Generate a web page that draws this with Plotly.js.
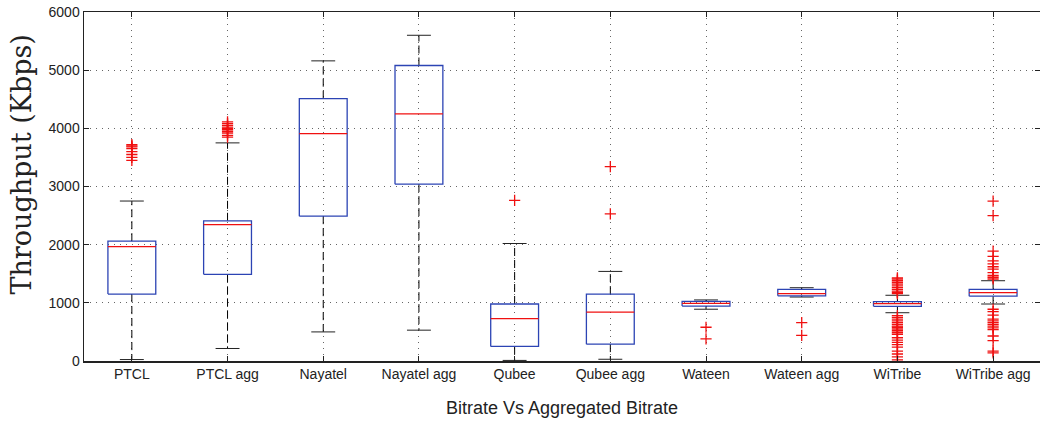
<!DOCTYPE html>
<html>
<head>
<meta charset="utf-8">
<script src="https://cdn.plot.ly/plotly-3.0.1.min.js"></script>
<style>html,body{margin:0;padding:0;background:#fff;}#chart{width:1040px;height:422px;}</style>
</head>
<body>
<div id="chart"></div>
<script>
const categories = ["PTCL", "PTCL agg", "Nayatel", "Nayatel agg", "Qubee", "Qubee agg", "Wateen", "Wateen agg", "WiTribe", "WiTribe agg"];
const q1Values     = [1150, 1490, 2490, 3040, 250, 290, 945, 1120, 940, 1115];
const medianValues = [1965, 2345, 3910, 4250, 730, 840, 990, 1160, 985, 1175];
const q3Values     = [2060, 2410, 4510, 5080, 980, 1150, 1025, 1230, 1020, 1230];
const lowerWhisker = [25, 215, 500, 530, 10, 30, 890, 1100, 830, 980];
const upperWhisker = [2750, 3750, 5160, 5600, 2020, 1540, 1050, 1260, 1130, 1380];
const outlierValues = [
  [3450, 3500, 3550, 3600, 3650, 3680, 3700, 3720],
  [3850, 3880, 3920, 3950, 3980, 4000, 4020, 4050, 4080, 4110],
  [],
  [],
  [2760],
  [2530, 3340],
  [380, 580],
  [440, 660],
  [1160, 1180, 1200, 1230, 1260, 1290, 1320, 1350, 1380, 1410, 1430,
   780, 750, 720, 690, 660, 630, 600, 580, 550, 520, 490, 460, 400, 360, 320, 280, 240, 170, 120, 70, 20],
  [1410, 1440, 1470, 1520, 1580, 1620, 1670, 1720, 1800, 1890, 2500, 2750,
   890, 850, 790, 720, 690, 660, 630, 600, 570, 540, 430, 350, 170, 140]
];
const yTicks = [0, 1000, 2000, 3000, 4000, 5000, 6000];
const yTitle = 'Throughput (Kbps)';
const xTitle = 'Bitrate Vs Aggregated Bitrate';

const boxHalf = 0.25, capHalf = 0.125;
const pos = categories.map((c, i) => i + 1);

const bx = [], by = [], mx = [], my = [], wx = [], wy = [], cx = [], cy = [], ox = [], oy = [];
pos.forEach((p, i) => {
  bx.push(p - boxHalf, p + boxHalf, p + boxHalf, p - boxHalf, p - boxHalf, null);
  by.push(q1Values[i], q1Values[i], q3Values[i], q3Values[i], q1Values[i], null);
  mx.push(p - boxHalf, p + boxHalf, null);
  my.push(medianValues[i], medianValues[i], null);
  wx.push(p, p, null, p, p, null);
  wy.push(q3Values[i], upperWhisker[i], null, q1Values[i], lowerWhisker[i], null);
  cx.push(p - capHalf, p + capHalf, null, p - capHalf, p + capHalf, null);
  cy.push(upperWhisker[i], upperWhisker[i], null, lowerWhisker[i], lowerWhisker[i], null);
  outlierValues[i].forEach(v => { ox.push(p); oy.push(v); });
});

const traces = [
  {x: wx, y: wy, mode: 'lines', line: {color: '#000', width: 1, dash: '8px,4px'}, hoverinfo: 'skip'},
  {x: cx, y: cy, mode: 'lines', line: {color: '#222', width: 1}, hoverinfo: 'skip'},
  {x: bx, y: by, mode: 'lines', line: {color: '#2c44b4', width: 1.3}, hoverinfo: 'skip'},
  {x: mx, y: my, mode: 'lines', line: {color: '#f01010', width: 1.3}, hoverinfo: 'skip'},
  {x: ox, y: oy, mode: 'markers', marker: {symbol: 'cross-thin', size: 8, line: {color: '#f01010', width: 1.3}}, hoverinfo: 'skip'}
];

const layout = {
  width: 1040, height: 422,
  margin: {l: 84, r: 0, t: 12, b: 61},
  showlegend: false,
  paper_bgcolor: '#fff', plot_bgcolor: '#fff',
  font: {family: 'Liberation Sans, Arial, sans-serif', color: '#222'},
  xaxis: {
    range: [0.5, 10.49], tickvals: pos, ticktext: categories,
    ticks: 'inside', ticklen: 5, tickcolor: '#222', tickwidth: 1,
    showline: true, linecolor: '#222', linewidth: 1.5, mirror: 'ticks',
    showgrid: true, gridcolor: '#666', griddash: '1px,5px', gridwidth: 1,
    zeroline: false, tickfont: {size: 14},
    title: {text: xTitle, font: {size: 18}, standoff: 20}
  },
  yaxis: {
    range: [0, 6000], tickvals: yTicks,
    ticks: 'inside', ticklen: 5, tickcolor: '#222', tickwidth: 1,
    showline: true, linecolor: '#222', linewidth: 1.5, mirror: 'ticks',
    showgrid: true, gridcolor: '#666', griddash: '1px,5px', gridwidth: 1,
    zeroline: false, tickfont: {size: 14}
  },
  annotations: [{
    text: yTitle, textangle: -90, showarrow: false,
    xref: 'paper', yref: 'paper', x: -0.065, y: 0.5625,
    xanchor: 'center', yanchor: 'middle',
    font: {family: 'DejaVu Serif, serif', size: 27, color: '#222'}
  }]
};

Plotly.newPlot('chart', traces, layout, {displayModeBar: false, staticPlot: true});
</script>
</body>
</html>
